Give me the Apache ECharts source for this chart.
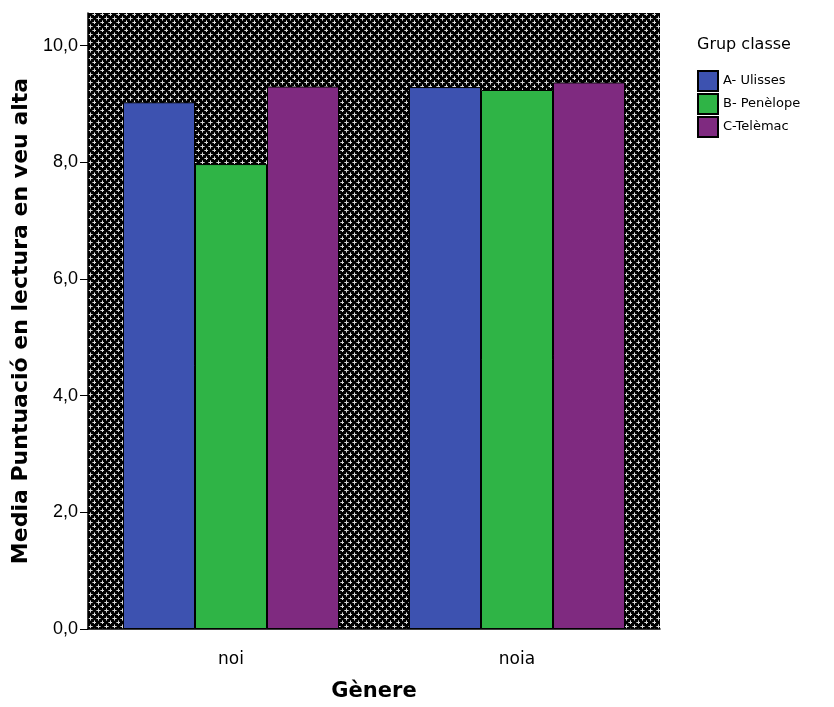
<!DOCTYPE html>
<html>
<head>
<meta charset="utf-8">
<script src="https://cdn.jsdelivr.net/npm/echarts@6/dist/echarts.min.js"></script>
<style>
  html, body { margin: 0; padding: 0; background: #fff; }
  #chart { width: 834px; height: 707px; }
</style>
</head>
<body>
<div id="chart"></div>
<script>
// dades
var categories = ['noi', 'noia'];
var ulisses = [9.03, 9.29];
var penelope = [7.97, 9.24];
var telemac = [9.30, 9.37];
var yTicks = [0, 2, 4, 6, 8, 10];

// fons de trama (creus grises sobre negre)
function makePattern() {
    var c = document.createElement('canvas');
    c.width = 8;
    c.height = 8;
    var ctx = c.getContext('2d');
    ctx.fillStyle = '#000';
    ctx.fillRect(0, 0, 8, 8);
    [[2, 2], [6, 6]].forEach(function (p) {
        ctx.fillStyle = '#858585';
        ctx.fillRect(p[0] - 2, p[1], 5, 1);
        ctx.fillRect(p[0], p[1] - 2, 1, 5);
        ctx.fillStyle = '#dadada';
        ctx.fillRect(p[0] - 1, p[1], 3, 1);
        ctx.fillRect(p[0], p[1] - 1, 1, 3);
    });
    return c;
}

var font = '"DejaVu Sans", sans-serif';

var option = {
    backgroundColor: '#fff',
    animation: false,
    title: {
        text: 'Grup classe',
        left: 697,
        top: 37,
        padding: 0,
        textStyle: { fontFamily: font, fontWeight: 'normal', fontSize: 16, color: '#000' }
    },
    legend: {
        orient: 'vertical',
        left: 697,
        top: 70,
        padding: 0,
        itemWidth: 20,
        itemHeight: 20,
        itemGap: 1,
        icon: 'rect',
        textStyle: { fontFamily: font, fontSize: 13, color: '#000', lineHeight: 20 },
        data: ['A- Ulisses', 'B- Penèlope', 'C-Telèmac']
    },
    grid: {
        left: 88,
        right: 174,
        top: 13,
        bottom: 76,
        show: true,
        borderWidth: 0,
        backgroundColor: { image: makePattern(), repeat: 'repeat' }
    },
    xAxis: {
        type: 'category',
        data: categories,
        name: 'Gènere',
        nameLocation: 'middle',
        nameGap: 52,
        nameTextStyle: { fontFamily: font, fontWeight: 'bold', fontSize: 21, color: '#000' },
        axisLine: { lineStyle: { color: '#000', width: 1.5 } },
        axisTick: { alignWithLabel: true, length: 8, lineStyle: { color: '#000' } },
        axisLabel: { fontFamily: font, fontSize: 17, color: '#000', margin: 22 }
    },
    yAxis: {
        type: 'value',
        min: 0,
        max: 10.56,
        name: 'Media Puntuació en lectura en veu alta',
        nameLocation: 'middle',
        nameGap: 56,
        nameTextStyle: { fontFamily: font, fontWeight: 'bold', fontSize: 22, color: '#000' },
        splitLine: { show: false },
        axisLine: { show: true, lineStyle: { color: '#000', width: 1.5 } },
        axisTick: { show: true, length: 8, customValues: yTicks, lineStyle: { color: '#000' } },
        axisLabel: {
            customValues: yTicks,
            fontFamily: '"Liberation Sans", Arial, sans-serif',
            fontSize: 18,
            color: '#000',
            margin: 10,
            formatter: function (v) { return v.toFixed(1).replace('.', ','); }
        }
    },
    series: [
        {
            name: 'A- Ulisses',
            type: 'bar',
            barWidth: 72,
            barGap: '0%',
            data: ulisses,
            itemStyle: { color: '#3d52b0', borderColor: '#000', borderWidth: 1 }
        },
        {
            name: 'B- Penèlope',
            type: 'bar',
            barWidth: 72,
            barGap: '0%',
            data: penelope,
            itemStyle: { color: '#2fb446', borderColor: '#000', borderWidth: 1 }
        },
        {
            name: 'C-Telèmac',
            type: 'bar',
            barWidth: 72,
            barGap: '0%',
            data: telemac,
            itemStyle: { color: '#7f2a80', borderColor: '#000', borderWidth: 1 }
        }
    ]
};

var myChart = echarts.init(document.getElementById('chart'));
myChart.setOption(option);
</script>
</body>
</html>
